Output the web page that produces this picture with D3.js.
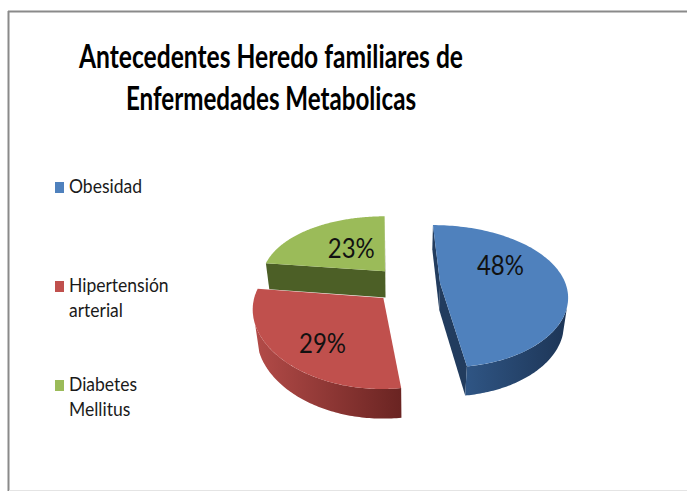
<!DOCTYPE html>
<html>
<head>
<meta charset="utf-8">
<script src="https://cdn.jsdelivr.net/npm/d3@7"></script>
<style>
  html, body { margin: 0; padding: 0; background: #ffffff; }
  svg { display: block; }
  text { font-family: Lato, "Noto Sans", sans-serif; }
</style>
</head>
<body>
<script>
// Chart data
const titleLines = ["Antecedentes Heredo familiares de", "Enfermedades Metabolicas"];
const categories = ["Obesidad", "Hipertensión arterial", "Diabetes Mellitus"];
const legendLines = [["Obesidad"], ["Hipertensión", "arterial"], ["Diabetes", "Mellitus"]];
const values = [48, 29, 23];

// Styles
const topColors  = ["#4f81bd", "#c0504d", "#9bbb59"];
const sideColors = [["#2f5584", "#1d3556"], ["#b34b48", "#6a2422"], ["#4f6228", "#46581f"]];
const wallColors = ["#223c5e", "#7a2c2a", "#4c5f26"];

const W = 687, H = 491;
const svg = d3.select("body").append("svg").attr("width", W).attr("height", H);

// frame
svg.append("line").attr("x1", 8).attr("y1", 11.5).attr("x2", W).attr("y2", 11.5)
  .attr("stroke", "#8a8a8a").attr("stroke-width", 2);
svg.append("line").attr("x1", 8.5).attr("y1", 11).attr("x2", 8.5).attr("y2", H)
  .attr("stroke", "#8a8a8a").attr("stroke-width", 2);
svg.append("line").attr("x1", 9).attr("y1", 490.5).attr("x2", W).attr("y2", 490.5)
  .attr("stroke", "#e4e4e4").attr("stroke-width", 1);

// Narrow a text element to the given width (keeps its height)
function condense(sel, target) {
  sel.attr("textLength", target).attr("lengthAdjust", "spacingAndGlyphs");
}

// Title
titleLines.forEach((t, i) => {
  const el = svg.append("text")
    .attr("x", 271).attr("y", [68, 110][i])
    .attr("text-anchor", "middle")
    .attr("font-weight", "bold")
    .attr("font-size", 32.5)
    .attr("fill", "#000")
    .text(t);
  condense(el, [384, 290][i]);
});

// Legend
const legendY = [193, 292, 391];
const legendFont = 18.5;
const legend = svg.append("g");
let squeeze = 1;
{
  const probe = legend.append("text").attr("font-size", legendFont).text(legendLines[0][0]);
  squeeze = 73 / probe.node().getComputedTextLength();
  probe.remove();
}
categories.forEach((c, i) => {
  legend.append("rect")
    .attr("x", 55).attr("y", legendY[i] - 11)
    .attr("width", 9).attr("height", 11)
    .attr("fill", topColors[i]);
  legendLines[i].forEach((line, j) => {
    const t = legend.append("text")
      .attr("x", 69).attr("y", legendY[i] + j * 25)
      .attr("font-size", legendFont)
      .attr("fill", "#1a1a1a")
      .text(line);
    condense(t, t.node().getComputedTextLength() * squeeze);
  });
});

// 3D pie projection (perspective, camera tilted 34 degrees)
const view = {
  cx: 407, cy: 284.5, Fx: 725, Dx: 5.77, Fy: 569, D: 4.6, skew: -3,
  s: Math.sin(34 * Math.PI / 180), c: Math.cos(34 * Math.PI / 180)
};
const depth = 0.27;    // slice thickness (in radius units)
const explode = 0.265; // offset of each slice along its mid angle

function project(u, v, h) {
  const Z = view.D + v * view.c - h * view.s;
  const Zx = view.Dx + v * view.c - h * view.s;
  return [view.cx + view.Fx * u / Zx + view.skew * v,
          view.cy - view.Fy * (v * view.s + h * view.c) / Z];
}
const cam = [0, -view.D * view.c, view.D * view.s];

const pie = d3.pie().sort(null).value(d => d);
const arcs = pie(values).map((a, i) => {
  const mid = (a.startAngle + a.endAngle) / 2;
  return { ...a, i, mid, ox: explode * Math.sin(mid), oy: explode * Math.cos(mid) };
});

const line = d3.line();
const defs = svg.append("defs");
const pieG = svg.append("g");

function rimPoints(a, t0, t1, h, n) {
  const pts = [];
  for (let k = 0; k <= n; k++) {
    const t = t0 + (t1 - t0) * k / n;
    pts.push(project(a.ox + Math.sin(t), a.oy + Math.cos(t), h));
  }
  return pts;
}

// far slices first
const order = arcs.slice().sort((p, q) => q.oy - p.oy);

order.forEach(a => {
  const g = pieG.append("g");
  const apexTop = project(a.ox, a.oy, 0);
  const apexBot = project(a.ox, a.oy, -depth);

  // radial walls
  [[a.startAngle, -1], [a.endAngle, 1]].forEach(([t, sgn]) => {
    const n = [sgn * Math.cos(t), -sgn * Math.sin(t)];
    const toCam = [cam[0] - a.ox, cam[1] - a.oy];
    if (n[0] * toCam[0] + n[1] * toCam[1] <= 0) return;
    const rt = project(a.ox + Math.sin(t), a.oy + Math.cos(t), 0);
    const rb = project(a.ox + Math.sin(t), a.oy + Math.cos(t), -depth);
    g.append("path")
      .attr("d", line([apexTop, rt, rb, apexBot]) + "Z")
      .attr("fill", wallColors[a.i]);
  });

  // outer curved side: visible range only
  const N = 160;
  let t0 = null, t1 = null;
  for (let k = 0; k <= N; k++) {
    const t = a.startAngle + (a.endAngle - a.startAngle) * k / N;
    const px = a.ox + Math.sin(t), py = a.oy + Math.cos(t);
    const dot = Math.sin(t) * (cam[0] - px) + Math.cos(t) * (cam[1] - py);
    if (dot > 0) { if (t0 === null) t0 = t; t1 = t; }
  }
  if (t0 !== null && t1 > t0) {
    const topRim = rimPoints(a, t0, t1, 0, 80);
    const botRim = rimPoints(a, t1, t0, -depth, 80);
    const xs = topRim.map(p => p[0]);
    const gid = "side" + a.i;
    const grad = defs.append("linearGradient").attr("id", gid)
      .attr("gradientUnits", "userSpaceOnUse")
      .attr("x1", d3.min(xs)).attr("x2", d3.max(xs)).attr("y1", 0).attr("y2", 0);
    grad.append("stop").attr("offset", "0%").attr("stop-color", sideColors[a.i][0]);
    grad.append("stop").attr("offset", "100%").attr("stop-color", sideColors[a.i][1]);
    g.append("path")
      .attr("d", line(topRim.concat(botRim)) + "Z")
      .attr("fill", `url(#${gid})`);
  }

  // top face
  const face = [apexTop].concat(rimPoints(a, a.startAngle, a.endAngle, 0, 120));
  g.append("path")
    .attr("d", line(face) + "Z")
    .attr("fill", topColors[a.i]);
});

// percentage labels on the top faces
const labelR = 0.6;
const labelShift = [[-14, -16], [-2, 10], [12, 3]];
const total = d3.sum(values);
arcs.forEach(a => {
  const p = project(a.ox + labelR * Math.sin(a.mid), a.oy + labelR * Math.cos(a.mid), 0);
  const t = svg.append("text")
    .attr("x", p[0] + labelShift[a.i][0]).attr("y", p[1] + labelShift[a.i][1])
    .attr("text-anchor", "middle")
    .attr("dominant-baseline", "central")
    .attr("font-size", 27)
    .attr("fill", "#111")
    .text(Math.round(a.data / total * 100) + "%");
  condense(t, 47);
});
</script>
</body>
</html>
